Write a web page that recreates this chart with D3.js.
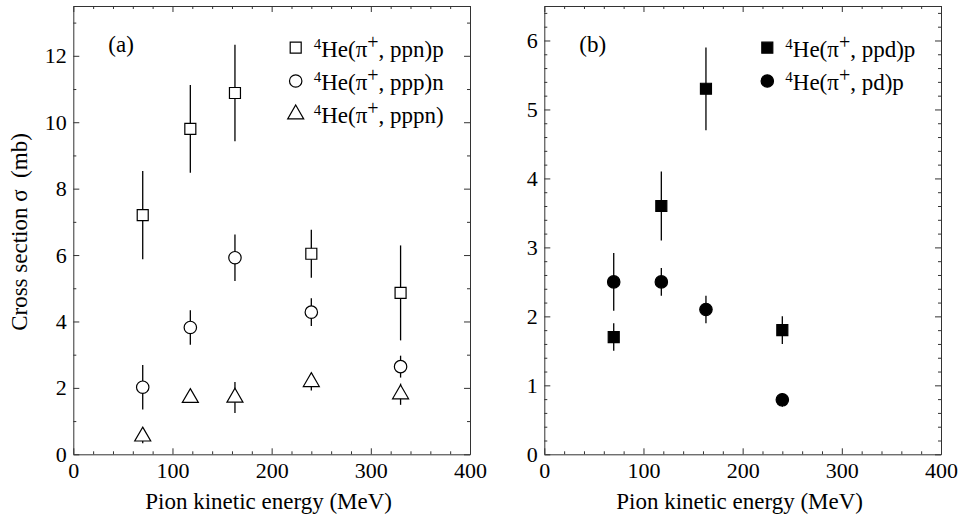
<!DOCTYPE html>
<html>
<head>
<meta charset="utf-8">
<script src="https://cdn.jsdelivr.net/npm/d3@7"></script>
<style>
body { margin: 0; background: #fff; }
svg text { font-family: "Liberation Serif", "Times New Roman", serif; }
</style>
</head>
<body>
<div class="chart"></div>
<script>
// panel (a): 4He(pi+, X) cross sections
const energyA = [70, 118, 163, 240, 330];
const ppnP = [7.2, 9.8, 10.88, 6.04, 4.86];
const ppnPErr = [1.33, 1.32, 1.45, 0.72, 1.43];
const pppN = [2.02, 3.82, 5.92, 4.28, 2.64];
const pppNErr = [0.67, 0.52, 0.7, 0.42, 0.33];
const pppn = [0.54, 1.7, 1.71, 2.18, 1.81];
const pppnErr = [0.21, 0.15, 0.47, 0.26, 0.32];

// panel (b)
const energyB = [70, 118, 163, 240];
const ppdP = [1.7, 3.6, 5.3, 1.8];
const ppdPErr = [0.2, 0.5, 0.6, 0.2];
const pdP = [2.5, 2.5, 2.1, 0.79];
const pdPErr = [0.42, 0.2, 0.2, 0.1];

// ticks
const xTicks = [0, 100, 200, 300, 400];
const yTicksA = [0, 2, 4, 6, 8, 10, 12];
const yTicksB = [0, 1, 2, 3, 4, 5, 6];

const W = 962, H = 518;
const svg = d3.select('.chart').append('svg')
    .attr('width', W)
    .attr('height', H);

const frameColor = '#333';

const symbolType = {
    square: d3.symbolSquare,
    circle: d3.symbolCircle,
    triangle: d3.symbolTriangle
};
const symbolSize = { square: 121, circle: 121, triangle: 111 };

function marker(sel, shape, filled) {
    sel.attr('d', d3.symbol().type(symbolType[shape]).size(symbolSize[shape])())
        .attr('fill', filled ? '#000' : '#fff')
        .attr('stroke', '#000')
        .attr('stroke-width', 1.2);
}

// legend text: 4He(pi+, ...)
function reaction(text, rest) {
    text.append('tspan').attr('font-size', 15).attr('dy', -8).text('4');
    text.append('tspan').attr('dy', 8).text('He(π');
    text.append('tspan').attr('font-size', 20).attr('dy', -8).text('+');
    text.append('tspan').attr('dy', 8).text(', ' + rest);
}

function styleAxis(g) {
    g.attr('color', frameColor)
        .attr('font-size', 22)
        .attr('font-family', '"Liberation Serif", serif');
    g.selectAll('text').attr('fill', '#000');
    g.selectAll('path, line').attr('stroke-width', 1);
}

function panel(p) {
    const { x, y } = p;
    const [x0, x1] = x.range();
    const [y0, y1] = y.range();
    const g = svg.append('g');

    const xMinor = d3.range(0, 401, 20).filter(v => v % 100 !== 0);
    const yMinor = d3.range(0, y.domain()[1] + 1e-9, p.yMinorStep)
        .filter(v => !p.yTicks.some(t => Math.abs(t - v) < 1e-6));
    const fmt = d3.format('d');

    // bottom
    g.append('g')
        .attr('transform', `translate(0,${y0})`)
        .call(d3.axisBottom(x).tickValues(xTicks).tickFormat(fmt)
            .tickSizeInner(-6).tickSizeOuter(0).tickPadding(8.5))
        .call(styleAxis);
    g.append('g')
        .attr('transform', `translate(0,${y0})`)
        .call(d3.axisBottom(x).tickValues(xMinor).tickSize(-3).tickFormat(''))
        .call(styleAxis)
        .call(a => a.select('.domain').remove());
    // top
    g.append('g')
        .attr('transform', `translate(0,${y1})`)
        .call(d3.axisTop(x).tickValues(xTicks).tickSizeInner(-6).tickSizeOuter(0).tickFormat(''))
        .call(styleAxis);
    g.append('g')
        .attr('transform', `translate(0,${y1})`)
        .call(d3.axisTop(x).tickValues(xMinor).tickSize(-3).tickFormat(''))
        .call(styleAxis)
        .call(a => a.select('.domain').remove());
    // left
    g.append('g')
        .attr('transform', `translate(${x0},0)`)
        .call(d3.axisLeft(y).tickValues(p.yTicks).tickFormat(fmt)
            .tickSizeInner(-6).tickSizeOuter(0).tickPadding(6.5))
        .call(styleAxis);
    g.append('g')
        .attr('transform', `translate(${x0},0)`)
        .call(d3.axisLeft(y).tickValues(yMinor).tickSize(-3).tickFormat(''))
        .call(styleAxis)
        .call(a => a.select('.domain').remove());
    // right
    g.append('g')
        .attr('transform', `translate(${x1},0)`)
        .call(d3.axisRight(y).tickValues(p.yTicks).tickSizeInner(-6).tickSizeOuter(0).tickFormat(''))
        .call(styleAxis);
    g.append('g')
        .attr('transform', `translate(${x1},0)`)
        .call(d3.axisRight(y).tickValues(yMinor).tickSize(-3).tickFormat(''))
        .call(styleAxis)
        .call(a => a.select('.domain').remove());

    // axis title
    g.append('text')
        .attr('x', (x0 + x1) / 2 - 3)
        .attr('y', 509)
        .attr('text-anchor', 'middle')
        .attr('font-size', 23)
        .text('Pion kinetic energy (MeV)');

    if (p.yTitle) {
        g.append('text')
            .attr('transform', `translate(27,${232}) rotate(-90)`)
            .attr('text-anchor', 'middle')
            .attr('font-size', 23)
            .attr('xml:space', 'preserve')
            .text(p.yTitle);
    }

    // panel label
    g.append('text')
        .attr('x', x0 + 35)
        .attr('y', 52)
        .attr('font-size', 23)
        .text(p.label);

    // data
    p.series.forEach(s => {
        const pts = s.xs.map((e, i) => ({ e, v: s.values[i], err: s.errs[i] }));
        const sg = g.append('g');
        sg.selectAll('line')
            .data(pts)
            .join('line')
            .attr('x1', d => x(d.e))
            .attr('x2', d => x(d.e))
            .attr('y1', d => y(d.v - d.err))
            .attr('y2', d => y(d.v + d.err))
            .attr('stroke', '#000')
            .attr('stroke-width', 1.3);
        sg.selectAll('path')
            .data(pts)
            .join('path')
            .attr('transform', d => `translate(${x(d.e)},${y(d.v)})`)
            .call(marker, s.shape, s.filled);
    });

    // legend
    const lg = g.append('g').attr('transform', `translate(${p.legendX},47.7)`);
    p.series.forEach((s, i) => {
        const row = lg.append('g').attr('transform', `translate(0,${i * 33.3})`);
        row.append('path').call(marker, s.shape, s.filled);
        row.append('text')
            .attr('x', 18)
            .attr('y', 9)
            .attr('font-size', 23)
            .call(reaction, s.name);
    });
}

panel({
    x: d3.scaleLinear().domain([0, 400]).range([73.3, 470]),
    y: d3.scaleLinear().domain([0, 13.5]).range([454.3, 6]),
    yTicks: yTicksA,
    yMinorStep: 1,
    label: '(a)',
    yTitle: 'Cross section σ  (mb)',
    legendX: 295.7,
    series: [
        { name: 'ppn)p', xs: energyA, values: ppnP, errs: ppnPErr, shape: 'square', filled: false },
        { name: 'ppp)n', xs: energyA, values: pppN, errs: pppNErr, shape: 'circle', filled: false },
        { name: 'pppn)', xs: energyA, values: pppn, errs: pppnErr, shape: 'triangle', filled: false }
    ]
});

panel({
    x: d3.scaleLinear().domain([0, 400]).range([544.3, 941]),
    y: d3.scaleLinear().domain([0, 6.5]).range([454.3, 6]),
    yTicks: yTicksB,
    yMinorStep: 0.2,
    label: '(b)',
    legendX: 767.3,
    series: [
        { name: 'ppd)p', xs: energyB, values: ppdP, errs: ppdPErr, shape: 'square', filled: true },
        { name: 'pd)p', xs: energyB, values: pdP, errs: pdPErr, shape: 'circle', filled: true }
    ]
});
</script>
</body>
</html>
